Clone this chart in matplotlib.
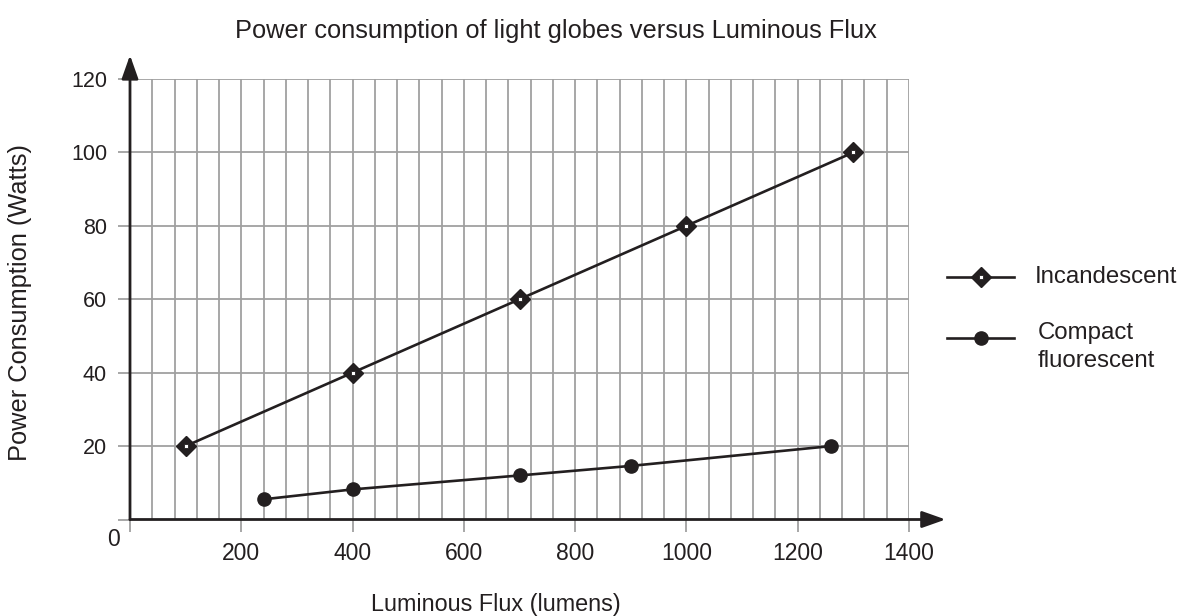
import matplotlib
matplotlib.use("Agg")
import matplotlib.pyplot as plt
from matplotlib.lines import Line2D

plt.rcParams['font.family'] = ['Liberation Sans', 'DejaVu Sans']

# Data
inc_x = [100, 400, 700, 1000, 1300]
inc_y = [20, 40, 60, 80, 100]
cfl_x = [240, 400, 700, 900, 1260]
cfl_y = [5.5, 8.2, 12, 14.6, 20]
x_ticks = [0, 200, 400, 600, 800, 1000, 1200, 1400]
y_ticks = [0, 20, 40, 60, 80, 100, 120]
title = "Power consumption of light globes versus Luminous Flux"
xlabel = "Luminous Flux (lumens)"
ylabel = "Power Consumption (Watts)"
series_labels = ["Incandescent", "Compact\nfluorescent"]

W, H = 1181, 616
fig = plt.figure(figsize=(W / 100, H / 100), dpi=100)
ax = fig.add_axes([130 / W, 1 - 519.5 / H, 779 / W, 440.5 / H])

dark = '#231f20'
grid_c = '#a0a0a0'

ax.set_xlim(0, 1400)
ax.set_ylim(0, 120)

# fine vertical grid every 40
for gx in range(40, 1401, 40):
    ax.axvline(gx, color=grid_c, lw=1.3, zorder=1)
for gy in y_ticks[1:]:
    ax.axhline(gy, color=grid_c, lw=1.3, zorder=1)

ax.set_xticks(x_ticks)
ax.set_xticklabels([''] + [str(v) for v in x_ticks[1:]])
ax.set_yticks(y_ticks)
ax.set_yticklabels([''] + [str(v) for v in y_ticks[1:]])
ax.tick_params(axis='both', length=8.5, width=1.3, color=grid_c,
               pad=8, labelcolor=dark)
ax.tick_params(axis='x', labelsize=16.5)
ax.tick_params(axis='y', labelsize=15.5)

for s in ['top', 'right', 'left', 'bottom']:
    ax.spines[s].set_visible(False)

# axis arrows
arrow_style = '-|>,head_length=0.65,head_width=0.23'
ax.annotate('', xy=(1.047, 0), xytext=(0, 0), xycoords='axes fraction',
            arrowprops=dict(arrowstyle=arrow_style, color=dark, lw=2.0,
                            mutation_scale=22, shrinkA=0, shrinkB=0),
            annotation_clip=False, zorder=3)
ax.annotate('', xy=(0, 1.054), xytext=(0, 0), xycoords='axes fraction',
            arrowprops=dict(arrowstyle=arrow_style, color=dark, lw=2.0,
                            mutation_scale=22, shrinkA=0, shrinkB=0),
            annotation_clip=False, zorder=3)

# origin label
fig.text(114 / W, 1 - 540 / H, '0', ha='center', va='center', fontsize=16.5, color=dark)

# series
ax.plot(inc_x, inc_y, color=dark, lw=1.9, marker='D', markersize=10.5,
        markerfacecolor=dark, markeredgecolor=dark, zorder=4, clip_on=False)
ax.plot(inc_x, inc_y, ls='none', marker='s', markersize=3,
        markerfacecolor='white', markeredgecolor=dark, markeredgewidth=0.6,
        zorder=5, clip_on=False)
ax.plot(cfl_x, cfl_y, color=dark, lw=1.9, marker='o', markersize=9.5,
        markerfacecolor=dark, markeredgecolor=dark, zorder=4, clip_on=False)

# legend (manual)
lx0, lx1, lxm = 947, 1014, 981
for yy, mk in [(277, 'D'), (338, 'o')]:
    fig.add_artist(Line2D([lx0 / W, lx1 / W], [1 - yy / H, 1 - yy / H],
                          color=dark, lw=1.9))
    fig.add_artist(Line2D([lxm / W], [1 - yy / H], marker=mk,
                          markersize=10.5 if mk == 'D' else 9.5, color=dark,
                          markerfacecolor=dark))
fig.add_artist(Line2D([lxm / W], [1 - 277 / H], marker='s', markersize=3,
                      markerfacecolor='white', markeredgecolor=dark,
                      markeredgewidth=0.6))
fig.text(1035 / W, 1 - 277 / H, series_labels[0], ha='left', va='center',
         fontsize=17.3, color=dark)
fig.text(1038 / W, 1 - 347 / H, series_labels[1], ha='left', va='center',
         fontsize=17.3, color=dark, linespacing=1.3)

fig.text(556 / W, 1 - 31 / H, title, ha='center', va='center', fontsize=18.3, color=dark)
fig.text(496 / W, 1 - 604 / H, xlabel, ha='center', va='center', fontsize=16.8, color=dark)
fig.text(20 / W, 1 - 303 / H, ylabel, ha='center', va='center', rotation=90,
         fontsize=18.3, color=dark)

fig.savefig('out.png', dpi=100)
